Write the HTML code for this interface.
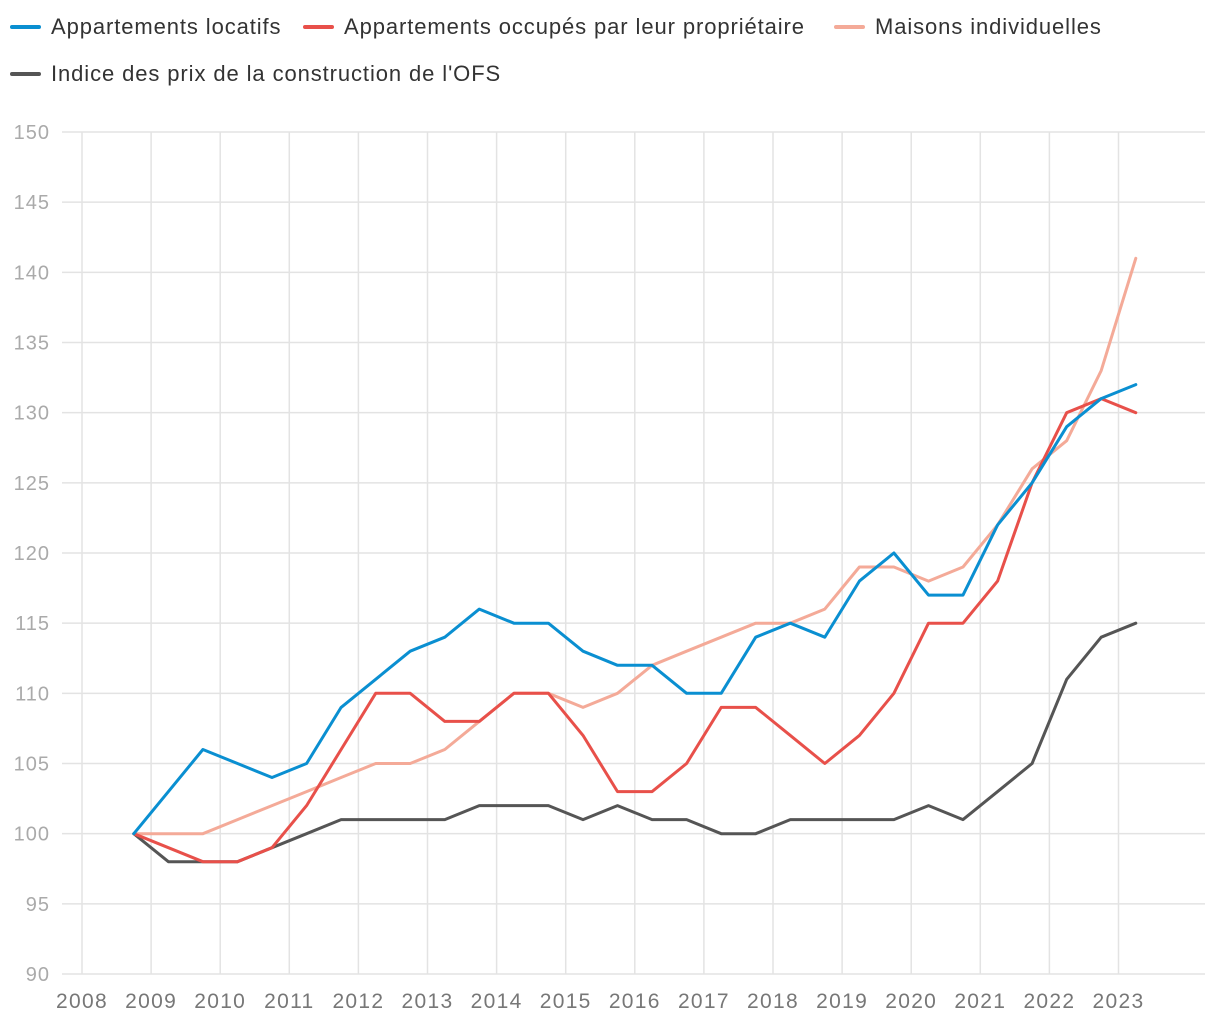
<!DOCTYPE html>
<html><head><meta charset="utf-8">
<style>
body{margin:0;background:#fff;font-family:"Liberation Sans",Arial,sans-serif;}
#wrap{position:relative;width:1220px;height:1020px;overflow:hidden;}
.leg{position:absolute;font-size:22px;letter-spacing:0.9px;color:#333;display:flex;align-items:center;white-space:nowrap;}
.leg i{display:inline-block;width:31px;height:4px;border-radius:2px;margin-right:10px;}
</style></head><body>
<div id="wrap">
<div class="leg" style="left:10px;top:14px"><i style="background:#0a8fd1"></i>Appartements locatifs</div>
<div class="leg" style="left:303px;top:14px"><i style="background:#e8504a"></i>Appartements occupés par leur propriétaire</div>
<div class="leg" style="left:834px;top:14px"><i style="background:#f4aa98"></i>Maisons individuelles</div>
<div class="leg" style="left:10px;top:61px"><i style="background:#555"></i>Indice des prix de la construction de l'OFS</div>
<svg id="svg" width="1220" height="1020" style="position:absolute;left:0;top:0"></svg>
</div>
<script>
const years=[2008,2009,2010,2011,2012,2013,2014,2015,2016,2017,2018,2019,2020,2021,2022,2023];
const yTicks=[90,95,100,105,110,115,120,125,130,135,140,145,150];
const locatifs=[100,103,106,105,104,105,109,111,113,114,116,115,115,113,112,112,110,110,114,115,114,118,120,117,117,122,125,129,131,132];
const proprietaire=[100,99,98,98,99,102,106,110,110,108,108,110,110,107,103,103,105,109,109,107,105,107,110,115,115,118,125,130,131,130];
const maisons=[100,100,100,101,102,103,104,105,105,106,108,110,110,109,110,112,113,114,115,115,116,119,119,118,119,122,126,128,133,141];
const ofs=[100,98,98,98,99,100,101,101,101,101,102,102,102,101,102,101,101,100,100,101,101,101,101,102,101,103,105,111,114,115];
const startYear=2008.75, step=0.5;
const svg=document.getElementById('svg');
const NS='http://www.w3.org/2000/svg';
const X=v=>82+(v-2008)*69.1;
const Y=v=>974-(v-90)*(842/60);
function mk(t,a){const e=document.createElementNS(NS,t);for(const k in a)e.setAttribute(k,a[k]);svg.appendChild(e);return e;}
yTicks.forEach(t=>{
  const l=mk('line',{x1:62,x2:1205,y1:Y(t),y2:Y(t),stroke:'#e3e3e3','stroke-width':1.5});
  
  
  const tx=mk('text',{x:50,y:Y(t)+7,'text-anchor':'end','font-size':20,'letter-spacing':1,fill:'#aaa','font-family':'Liberation Sans, Arial, sans-serif'});
  tx.textContent=t;
  
  
});
years.forEach(y=>{
  const l=mk('line',{x1:X(y),x2:X(y),y1:Y(150),y2:Y(90),stroke:'#e3e3e3','stroke-width':1.5});
  
  
  const tx=mk('text',{x:X(y),y:1008,'text-anchor':'middle','font-size':21,'letter-spacing':1.3,fill:'#777','font-family':'Liberation Sans, Arial, sans-serif'});
  tx.textContent=y;
  
  
});
function series(arr,color,name){
  const pts=arr.map((v,i)=>X(startYear+i*step).toFixed(1)+','+Y(v).toFixed(1)).join(' ');
  const p=mk('polyline',{points:pts,fill:'none',stroke:color,'stroke-width':3,'stroke-linejoin':'round','stroke-linecap':'round'});
  
  
}
series(maisons,'#f4aa98','line-maisons');
series(ofs,'#555555','line-ofs');
series(proprietaire,'#e8504a','line-proprietaire');
series(locatifs,'#0a8fd1','line-locatifs');
</script>
</body></html>
